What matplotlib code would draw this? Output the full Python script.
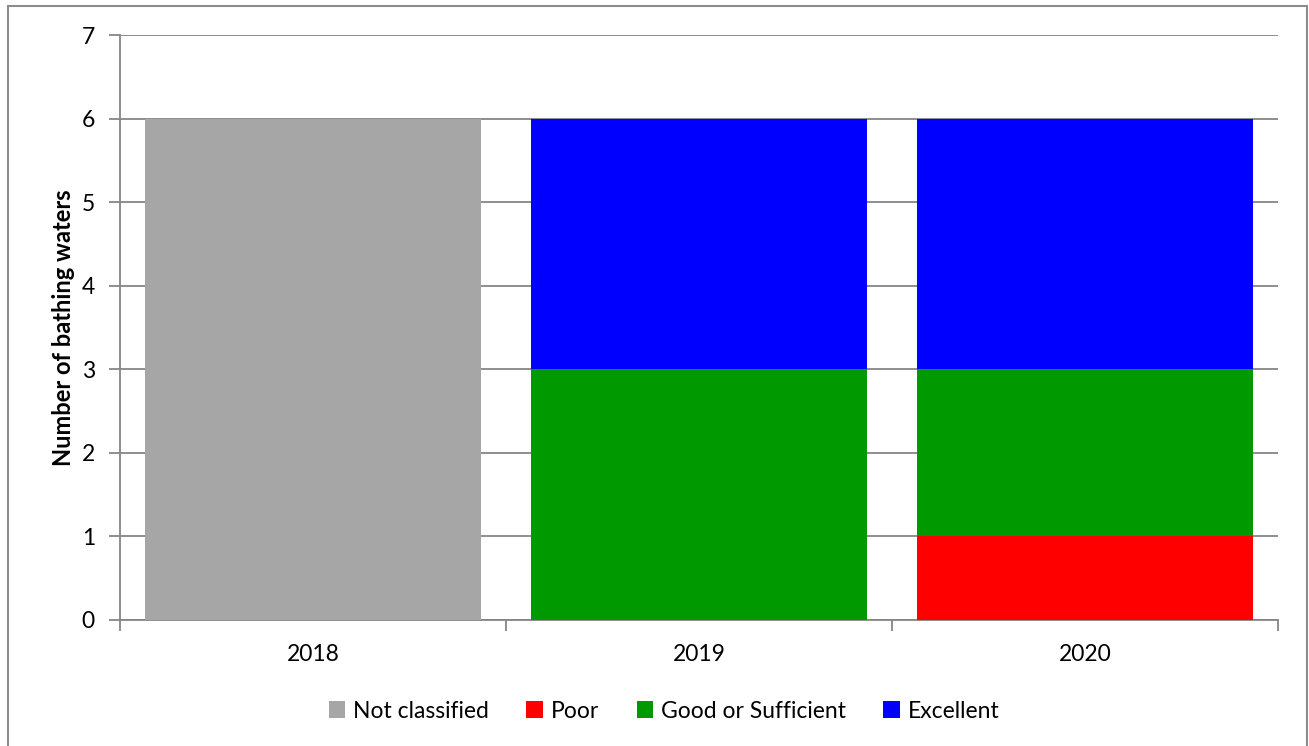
import matplotlib
matplotlib.use("Agg")
import matplotlib.pyplot as plt
from matplotlib.patches import Patch, Rectangle
import numpy as np

years = ["2018", "2019", "2020"]
series_names = ["Not classified", "Poor", "Good or Sufficient", "Excellent"]
not_classified = [6, 0, 0]
poor = [0, 0, 1]
good = [0, 3, 2]
excellent = [0, 3, 3]
colors = ["#A6A6A6", "#FF0000", "#009900", "#0000FF"]
y_ticks = [0, 1, 2, 3, 4, 5, 6, 7]

plt.rcParams['font.family'] = ['Lato', 'DejaVu Sans']

W, H = 1309, 746
fig = plt.figure(figsize=(W / 100, H / 100), dpi=100)
ax = fig.add_axes([120 / W, 1 - 620 / H, (1278 - 120) / W, (620 - 35) / H])

grid_c = "#868686"
fs = 16.5
x = np.arange(len(years))
bottom = np.zeros(len(years))
for vals, c in zip([not_classified, poor, good, excellent], colors):
    v = np.array(vals, dtype=float)
    ax.bar(x, v, bottom=bottom, width=0.868, color=c, zorder=3, linewidth=0)
    bottom += v

ax.set_xlim(-0.5, len(years) - 0.5)
ax.set_ylim(0, 7)
ax.set_yticks(y_ticks)
ax.yaxis.grid(True, color=grid_c, linewidth=1.3, zorder=0)
ax.set_axisbelow(True)

ax.set_xticks(np.arange(len(years) + 1) - 0.5)
ax.set_xticklabels([])
ax.set_xticks(x, minor=True)
ax.set_xticklabels(years, minor=True)
ax.tick_params(axis='x', which='major', length=8, width=1.3, color=grid_c, direction='out')
ax.tick_params(axis='x', which='minor', length=0, pad=17, labelsize=fs)
ax.tick_params(axis='y', length=8, width=1.3, color=grid_c, direction='out', pad=10, labelsize=fs)

for s in ['top', 'right']:
    ax.spines[s].set_visible(False)
for s in ['left', 'bottom']:
    ax.spines[s].set_color(grid_c)
    ax.spines[s].set_linewidth(1.3)

ax.set_ylabel("Number of bathing waters", fontsize=17, fontweight='bold', labelpad=5)

handles = [Patch(facecolor=c, edgecolor='none') for c in colors]
fig.legend(handles, series_names, loc='center', bbox_to_anchor=(664 / W, 1 - 711 / H),
           ncol=4, frameon=False, fontsize=fs, handlelength=0.7, handleheight=0.7,
           handletextpad=0.35, columnspacing=1.65)

fig.patches.append(Rectangle((8 / W, -0.01), (1307 - 8) / W, (740 / H) + 0.01,
                             transform=fig.transFigure, fill=False,
                             edgecolor="#8C8C8C", linewidth=1.5))

fig.savefig("out.png", dpi=100, facecolor="white")
